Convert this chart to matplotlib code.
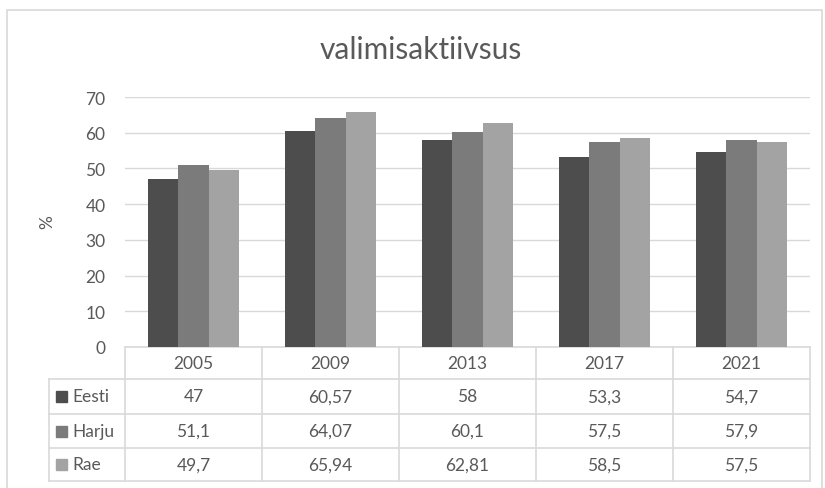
import numpy as np
import matplotlib.pyplot as plt
from matplotlib.patches import Rectangle
from matplotlib.transforms import blended_transform_factory

plt.rcParams['font.family'] = ['Lato', 'DejaVu Sans']

years = ['2005', '2009', '2013', '2017', '2021']
series = ['Eesti', 'Harju', 'Rae']
eesti = [47, 60.57, 58, 53.3, 54.7]
harju = [51.1, 64.07, 60.1, 57.5, 57.9]
rae = [49.7, 65.94, 62.81, 58.5, 57.5]
labels = [['47', '60,57', '58', '53,3', '54,7'],
          ['51,1', '64,07', '60,1', '57,5', '57,9'],
          ['49,7', '65,94', '62,81', '58,5', '57,5']]
colors = ['#4d4d4d', '#7b7b7b', '#a3a3a3']
txt = '#595959'
grid = '#d9d9d9'
fs = 12.5

W, H = 825, 489
fig = plt.figure(figsize=(W / 100, H / 100), dpi=100)
ax = fig.add_axes([125 / W, 1 - 348 / H, 685 / W, 250 / H])

x = np.arange(len(years))
w = 1 / 4.5
for k, vals in enumerate([eesti, harju, rae]):
    ax.bar(x + (k - 1) * w, vals, w, color=colors[k], zorder=3)

ax.set_xlim(-0.5, len(years) - 0.5)
ax.set_ylim(0, 70)
ax.set_yticks(range(0, 71, 10))
ax.tick_params(axis='y', length=0, pad=14, labelsize=fs, labelcolor=txt)
ax.tick_params(axis='x', length=0, labelbottom=False)
for s in ax.spines.values():
    s.set_visible(False)
ax.yaxis.grid(True, color=grid, lw=1, zorder=0)
ax.set_axisbelow(True)

# data table below the plot
tr = blended_transform_factory(ax.transData, ax.transAxes)
rows = [0, -32 / 250, -67 / 250, -101 / 250, -134 / 250]
x_left = (49 - 125) / 685  # axes fraction of legend column start
lk = dict(color=grid, lw=1.2, clip_on=False)

# horizontal lines
ax.plot([-0.5, len(years) - 0.5], [rows[0], rows[0]], transform=tr, **lk)
for r in rows[1:]:
    ax.plot([x_left, 1], [r, r], transform=ax.transAxes, **lk)
# vertical lines
for b in np.arange(-0.5, len(years), 1.0):
    ax.plot([b, b], [rows[0], rows[-1]], transform=tr, **lk)
ax.plot([x_left, x_left], [rows[1], rows[-1]], transform=ax.transAxes, **lk)

for i, yr in enumerate(years):
    ax.text(i, (rows[0] + rows[1]) / 2, yr, transform=tr, ha='center',
            va='center', fontsize=fs, color=txt)
for k, name in enumerate(series):
    yc = (rows[k + 1] + rows[k + 2]) / 2
    for i in range(len(years)):
        ax.text(i, yc, labels[k][i], transform=tr, ha='center', va='center',
                fontsize=fs, color=txt)
    kx = (56 - 125) / 685
    ax.add_patch(Rectangle((kx, yc - 5.5 / 250), 11 / 685, 11 / 250,
                           transform=ax.transAxes, color=colors[k],
                           clip_on=False))
    ax.text((72 - 125) / 685, yc, name, transform=ax.transAxes, ha='left',
            va='center', fontsize=fs, color=txt)

fig.text(421 / W, 1 - 50 / H, 'valimisaktiivsus', ha='center', va='center',
         fontsize=21.5, color=txt)
fig.text(47 / W, 1 - 222 / H, '%', ha='center', va='center', rotation=90,
         fontsize=fs, color=txt)

fig.patches.append(Rectangle((7 / W, -0.02), 815 / W, 1.02 - 11 / H,
                             transform=fig.transFigure, fill=False,
                             edgecolor=grid, lw=1.2))

fig.savefig('out.png', dpi=100)
